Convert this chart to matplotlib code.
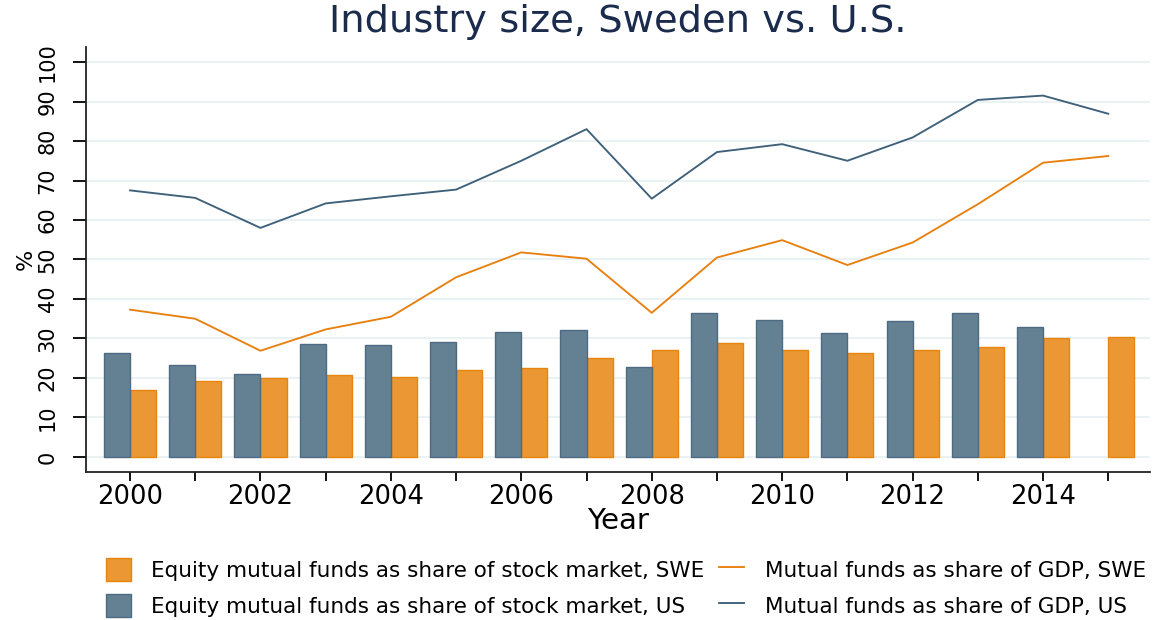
import matplotlib
matplotlib.use("Agg")
import matplotlib.pyplot as plt
import numpy as np

plt.rcParams['font.family'] = ['DejaVu Sans']

years = list(range(2000, 2016))
eq_swe = [16.9, 19.2, 20.1, 20.8, 20.3, 22.0, 22.5, 25.0, 27.1, 28.8, 27.2, 26.4, 27.0, 27.8, 30.1, 30.3]
eq_us = [26.3, 23.2, 21.0, 28.7, 28.3, 29.1, 31.6, 32.2, 22.8, 36.4, 34.6, 31.3, 34.4, 36.4, 32.8, np.nan]
gdp_swe = [37.3, 35.0, 26.9, 32.3, 35.5, 45.5, 51.8, 50.2, 36.5, 50.5, 54.9, 48.6, 54.3, 64.0, 74.5, 76.2]
gdp_us = [67.5, 65.6, 58.0, 64.2, 66.0, 67.7, 75.0, 83.0, 65.4, 77.2, 79.2, 75.0, 80.9, 90.4, 91.5, 86.9]
yticks = list(range(0, 101, 10))

labels = ["Equity mutual funds as share of stock market, SWE",
          "Equity mutual funds as share of stock market, US",
          "Mutual funds as share of GDP, SWE",
          "Mutual funds as share of GDP, US"]
title = 'Industry size, Sweden vs. U.S.'

c_us_fill = '#648093'
c_us_edge = '#4d6b82'
c_swe_fill = '#ea9734'
c_swe_edge = '#e8850f'
c_us_line = '#3e6079'
c_swe_line = '#e8800f'
grid_c = '#eaf2f3'

fig = plt.figure(figsize=(11.53, 6.2), dpi=100)
renderer = fig.canvas.get_renderer()


def fit_size(s, target, size0, **kw):
    t = fig.text(0, 0, s, fontsize=size0, **kw)
    size = size0
    for _ in range(4):
        t.set_fontsize(size)
        cur = t.get_window_extent(renderer).width
        size = size * target / cur
    t.remove()
    return size


fs_title = fit_size(title, 577, 22)
fs_leg = fit_size(labels[0], 553, 13)
fs_xt = fit_size('2000', 66, 15)
fs_xl = fit_size('Year', 62, 15)
fs_yt = 15
fs_yl = 16

ax = fig.add_axes([86/1153, 1-472/620, (1150-86)/1153, (472-47)/620])

x = np.array(years, dtype=float)
w = 0.4
b_swe = ax.bar(x + w/2, eq_swe, width=w, color=c_swe_fill, edgecolor=c_swe_edge, linewidth=1.0, zorder=2)
b_us = ax.bar(x - w/2, eq_us, width=w, color=c_us_fill, edgecolor=c_us_edge, linewidth=1.0, zorder=2)
l_swe, = ax.plot(x, gdp_swe, color=c_swe_line, lw=1.35, zorder=3)
l_us, = ax.plot(x, gdp_us, color=c_us_line, lw=1.35, zorder=3)

ax.set_xlim(1999.325, 2015.64)
ax.set_ylim(-3.8, 103.8)
ax.set_yticks(yticks)
ax.set_xticks(years)
ax.set_xticklabels([str(y) if y % 2 == 0 else '' for y in years])
ax.yaxis.grid(True, color=grid_c, lw=1.5, zorder=0)
ax.set_axisbelow(True)
for s in ['top', 'right']:
    ax.spines[s].set_visible(False)
for s in ['left', 'bottom']:
    ax.spines[s].set_linewidth(1.3)
    ax.spines[s].set_color('#222222')
ax.tick_params(axis='y', length=9.5, width=1.3, labelsize=fs_yt, pad=11, labelrotation=90)
for t in ax.get_yticklabels():
    t.set_va('center')
ax.tick_params(axis='x', length=6.5, width=1.3, labelsize=fs_xt, pad=2)
ax.set_xlabel('Year', fontsize=fs_xl, labelpad=-2)
ax.set_ylabel('%', fontsize=fs_yl, labelpad=1)

fig.text(618/1153, 1-22/620, title, fontsize=fs_title, color='#1a2b4c', ha='center', va='center')

fig.legend([b_swe, b_us, l_swe, l_us], labels, ncol=2, loc='upper left',
           bbox_to_anchor=(106/1153, 1-558/620), frameon=False, fontsize=fs_leg,
           handlelength=1.15, handleheight=1.25, columnspacing=0.7, labelspacing=0.62,
           handletextpad=0.95, borderaxespad=0, borderpad=0)

fig.savefig('out.png', dpi=100)
